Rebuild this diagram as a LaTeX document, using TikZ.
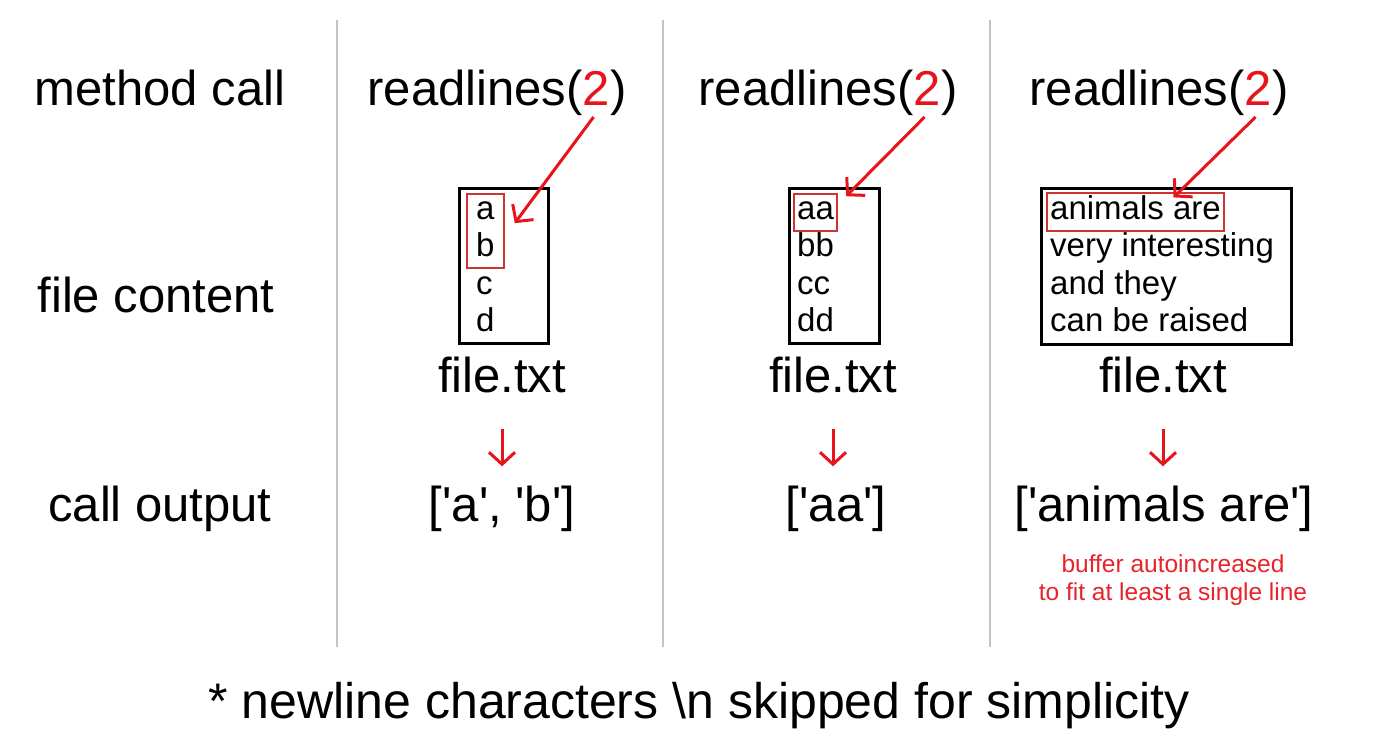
\documentclass[tikz,border=0pt]{standalone}
\usepackage{fontspec}
\setmainfont{Liberation Sans}
\usetikzlibrary{positioning}
\usetikzlibrary{fit}
\usetikzlibrary{arrows.meta}

\definecolor{hlred}{HTML}{CF3434}
\definecolor{arred}{HTML}{E8141C}
\definecolor{notered}{HTML}{E8232B}
\definecolor{sepgray}{HTML}{C4C4C4}

\newcommand{\sq}{\textquotesingle}

\begin{document}
\begin{tikzpicture}[
    x=1pt, y=-1pt,
    big/.style={font=\fontsize{49}{49}\selectfont, inner sep=0, anchor=base},
    ftext/.style={font=\fontsize{33}{33}\selectfont\strut, inner sep=0, anchor=base west},
    note/.style={font=\fontsize{24.5}{24.5}\selectfont, text=notered, inner sep=0, anchor=base},
    fbox/.style={draw, line width=3pt, inner sep=0, anchor=north west},
    hbox/.style={draw=hlred, line width=2pt, inner xsep=3pt, inner ysep=1.5pt},
    dedge/.style={-{Straight Barb[length=12pt, width=26pt]}, draw=arred, line width=3pt},
    sep/.style={draw=sepgray, line width=1.5pt}
]
\fill[white] (0,0) rectangle (1383,741);
\useasboundingbox (0,0) rectangle (1383,741);

% column separators
\foreach \x in {337,663,990}
    \draw[sep] (\x,20) -- (\x,647);

% row labels
\node[big] (lcall) at (160,106) {method call};
\node[big] (lfile) at (156,312) {file content};
\node[big] (lout)  at (160,521) {call output};

% Column 1
\node[big] (call1) at (497,106) {readlines(\textcolor{arred}{2})};
\node[fbox, minimum width=89pt, minimum height=155pt] (box1) at (458,187) {};
\node[ftext] (a1) at ([xshift=18pt,yshift=-32pt]box1.north west) {a};
\node[ftext] (b1) at ([yshift=-37.5pt]a1.base west) {b};
\node[ftext] (c1) at ([yshift=-37.5pt]b1.base west) {c};
\node[ftext] (d1) at ([yshift=-37.5pt]c1.base west) {d};
\node[hbox, fit=(a1)(b1), inner xsep=9pt] (hl1) {};
\node[big] (ft1) at (502,392) {file.txt};
\node[big] (out1) at (502,521) {[\sq a\sq, \sq b\sq]};
\draw[dedge] ([xshift=-33pt,yshift=-11pt]call1.base east) -- ([xshift=10pt,yshift=8pt]hl1.east);
\draw[dedge, shorten <=36pt, shorten >=19pt] (ft1.south) -- (ft1.south |- out1.north);

% Column 2
\node[big] (call2) at (828,106) {readlines(\textcolor{arred}{2})};
\node[fbox, minimum width=90pt, minimum height=155pt] (box2) at (788,187) {};
\node[ftext] (a2) at ([xshift=9pt,yshift=-32pt]box2.north west) {aa};
\node[ftext] (b2) at ([yshift=-37.5pt]a2.base west) {bb};
\node[ftext] (c2) at ([yshift=-37.5pt]b2.base west) {cc};
\node[ftext] (d2) at ([yshift=-37.5pt]c2.base west) {dd};
\node[hbox, fit=(a2)] (hl2) {};
\node[big] (ft2) at (833,392) {file.txt};
\node[big] (out2) at (836,521) {[\sq aa\sq]};
\draw[dedge] ([xshift=-33pt,yshift=-11pt]call2.base east) -- ([xshift=8pt,yshift=-3pt]hl2.north east);
\draw[dedge, shorten <=36pt, shorten >=19pt] (ft2.south) -- (ft2.south |- out2.north);

% Column 3
\node[big] (call3) at (1159,106) {readlines(\textcolor{arred}{2})};
\node[fbox, minimum width=250pt, minimum height=156pt] (box3) at (1040,187) {};
\node[ftext] (a3) at ([xshift=10pt,yshift=-32pt]box3.north west) {animals are};
\node[ftext] (b3) at ([yshift=-37.5pt]a3.base west) {very interesting};
\node[ftext] (c3) at ([yshift=-37.5pt]b3.base west) {and they};
\node[ftext] (d3) at ([yshift=-37.5pt]c3.base west) {can be raised};
\node[hbox, fit=(a3)] (hl3) {};
\node[big] (ft3) at (1163,392) {file.txt};
\node[big] (out3) at (1164,521) {[\sq animals are\sq]};
\draw[dedge] ([xshift=-33pt,yshift=-11pt]call3.base east) -- ([xshift=38pt,yshift=-5pt]hl3.north);
\draw[dedge, shorten <=36pt, shorten >=19pt] (ft3.south) -- (ft3.south |- out3.north);
\node[note] (n1) at (1173,572) {buffer autoincreased};
\node[note] (n2) at ([yshift=-28pt]n1.base) {to fit at least a single line};

% footnote
\node[big, font=\fontsize{50}{50}\selectfont] (foot) at (699,718) {* newline characters \textbackslash n skipped for simplicity};

\end{tikzpicture}
\end{document}
